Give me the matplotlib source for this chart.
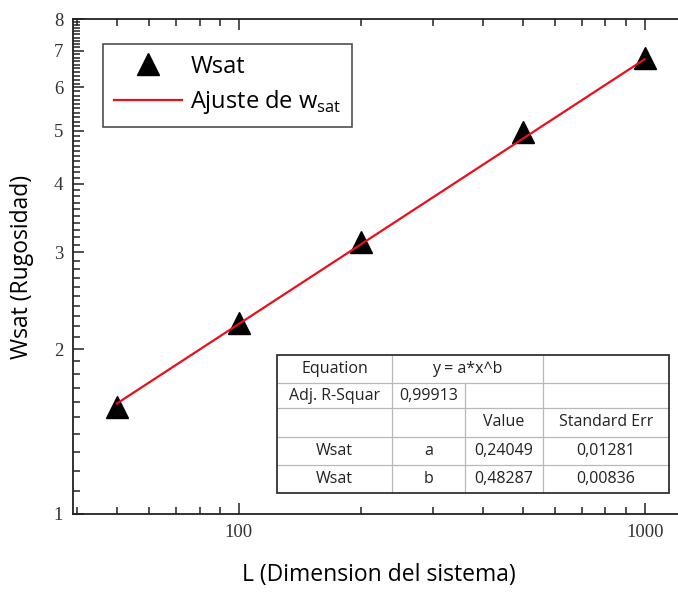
import numpy as np
import matplotlib
matplotlib.use("Agg")
import matplotlib.pyplot as plt
from matplotlib.ticker import FixedLocator, NullFormatter, FixedFormatter
from matplotlib.lines import Line2D
from matplotlib.patches import Rectangle

# rugosidad de saturacion frente al tamano del sistema
L = [50, 100, 200, 500, 1000]
wsat = [1.57, 2.23, 3.14, 4.97, 6.80]

# parametros del ajuste potencial y = a*x^b
a_fit = 0.24049
b_fit = 0.48287
table_rows = [
    ["Equation", "y = a*x^b", "", ""],
    ["Adj. R-Squar", "0,99913", "", ""],
    ["", "", "Value", "Standard Err"],
    ["Wsat", "a", "0,24049", "0,01281"],
    ["Wsat", "b", "0,48287", "0,00836"],
]

sans = "Open Sans"
serif = "Liberation Serif"
plt.rcParams["mathtext.fontset"] = "custom"
plt.rcParams["mathtext.rm"] = sans

W, H = 678, 593
fig = plt.figure(figsize=(W / 100, H / 100), dpi=100)
ax = fig.add_axes([73 / W, 1 - 514 / H, 611 / W, 495 / H])

xfit = np.logspace(np.log10(L[0]), np.log10(L[-1]), 100)
yfit = a_fit * xfit ** b_fit
ax.plot(L, wsat, linestyle="none", marker="^", color="black", ms=16, label="Wsat", zorder=3)
ax.plot(xfit, yfit, color="#e8101c", lw=1.6, label=r"Ajuste de w$_{\mathrm{sat}}$", zorder=4)

ax.set_xscale("log")
ax.set_yscale("log")
ax.set_xlim(39, 1250)
ax.set_ylim(1, 8)

ax.xaxis.set_major_locator(FixedLocator([100, 1000]))
ax.xaxis.set_major_formatter(FixedFormatter(["100", "1000"]))
ax.xaxis.set_minor_locator(FixedLocator([40, 50, 60, 70, 80, 90, 200, 300, 400, 500, 600, 700, 800, 900]))
ax.xaxis.set_minor_formatter(NullFormatter())
ax.yaxis.set_major_locator(FixedLocator([1, 2, 3, 4, 5, 6, 7, 8]))
ax.yaxis.set_major_formatter(FixedFormatter(["1", "2", "3", "4", "5", "6", "7", "8"]))
ax.yaxis.set_minor_locator(FixedLocator(np.arange(1.1, 8.0, 0.1)))
ax.yaxis.set_minor_formatter(NullFormatter())

ax.tick_params(which="both", direction="in", top=True, right=False, width=1.1, color="#222222")
ax.tick_params(which="major", length=8, labelsize=13.5, pad=7)
ax.tick_params(which="minor", length=5)
for lab in ax.get_xticklabels() + ax.get_yticklabels():
    lab.set_family(serif)
    lab.set_color("#333333")

for s in ["left", "bottom", "top"]:
    ax.spines[s].set_linewidth(1.3)
    ax.spines[s].set_color("#222222")
ax.spines["right"].set_visible(False)

ax.set_xlabel("L (Dimension del sistema)", fontsize=16.5, family=sans, labelpad=16)
ax.set_ylabel("Wsat (Rugosidad)", fontsize=16.5, family=sans, labelpad=14)

leg = ax.legend(loc="upper left", bbox_to_anchor=(30 / 611, 1 - 25 / 495),
                frameon=True, fancybox=False, edgecolor="#222222",
                prop={"family": sans, "size": 17}, handlelength=2.9,
                handletextpad=0.35, borderpad=0.45, labelspacing=0.4, borderaxespad=0)
leg.get_frame().set_linewidth(1.2)

# tabla de resultados del ajuste
xs = [277, 392, 465, 543, 669]
ys = [355, 383, 408, 437, 465, 493]

def fx(px):
    return px / W

def fy(py):
    return 1 - py / H

fig.add_artist(Rectangle((fx(xs[0]), fy(ys[-1])), fx(xs[-1]) - fx(xs[0]), fy(ys[0]) - fy(ys[-1]),
                         transform=fig.transFigure, facecolor="white", edgecolor="none", zorder=5))
grid_c = "#b8b8b8"
for yy in ys[1:-1]:
    fig.add_artist(Line2D([fx(xs[0]), fx(xs[-1])], [fy(yy), fy(yy)], color=grid_c, lw=0.9, zorder=6))
for xx in xs[1:-1]:
    top = ys[1] if xx == xs[2] else ys[0]
    fig.add_artist(Line2D([fx(xx), fx(xx)], [fy(top), fy(ys[-1])], color=grid_c, lw=0.9, zorder=6))
fig.add_artist(Rectangle((fx(xs[0]), fy(ys[-1])), fx(xs[-1]) - fx(xs[0]), fy(ys[0]) - fy(ys[-1]),
                         transform=fig.transFigure, facecolor="none", edgecolor="#333333", lw=1.3, zorder=7))

for r, row in enumerate(table_rows):
    cy = (ys[r] + ys[r + 1]) / 2
    for c, txt in enumerate(row):
        if not txt:
            continue
        if r == 0 and c == 1:
            cx = (xs[1] + xs[3]) / 2
        else:
            cx = (xs[c] + xs[c + 1]) / 2
        fig.text(fx(cx), fy(cy), txt, ha="center", va="center", fontsize=11.5,
                 family=sans, color="#222222", zorder=8)

fig.savefig("out.png", dpi=100)
